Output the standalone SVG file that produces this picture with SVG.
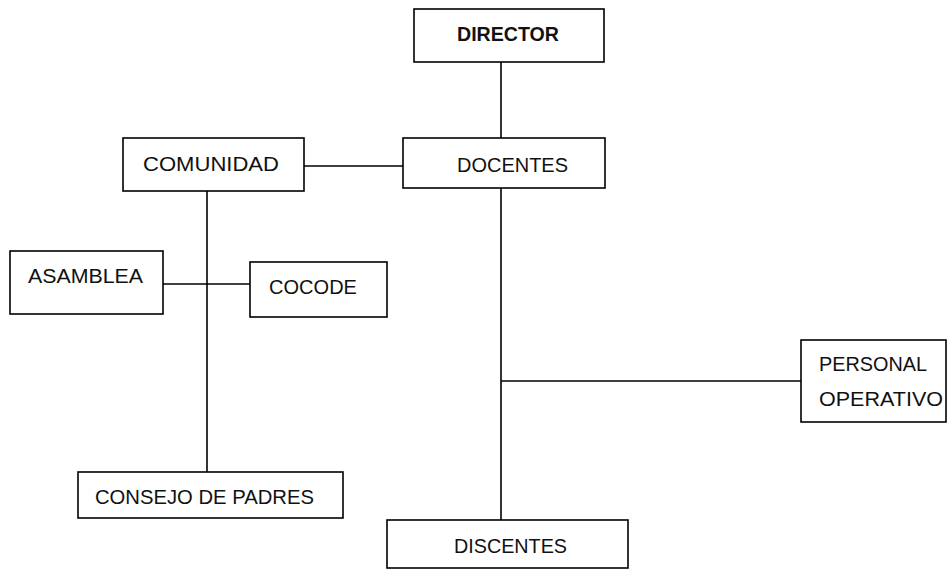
<svg xmlns="http://www.w3.org/2000/svg" width="948" height="569" viewBox="0 0 948 569">
<style>
.box{fill:#fff;stroke:#000;stroke-width:1.6}
.lbl{font-family:"Liberation Sans",Arial,sans-serif;font-size:21px;fill:#111}
.bold{font-weight:bold;font-size:20px}
.conn line{stroke:#000;stroke-width:1.6}
</style>
<rect width="948" height="569" fill="#fff"/>
<g class="conn">
<line x1="501" y1="62" x2="501" y2="138"/>
<line x1="304" y1="166" x2="403" y2="166"/>
<line x1="207" y1="191" x2="207" y2="472"/>
<line x1="163" y1="284" x2="250" y2="284"/>
<line x1="501" y1="188" x2="501" y2="520"/>
<line x1="501" y1="381" x2="801" y2="381"/>
</g>
<g id="director"><rect class="box" x="414" y="9" width="190" height="53"/><text class="lbl bold" x="457" y="41" textLength="102" lengthAdjust="spacingAndGlyphs">DIRECTOR</text></g>
<g id="docentes"><rect class="box" x="403" y="138" width="202" height="50"/><text class="lbl" x="457" y="172" textLength="111" lengthAdjust="spacingAndGlyphs">DOCENTES</text></g>
<g id="comunidad"><rect class="box" x="123" y="138" width="181" height="53"/><text class="lbl" x="143" y="171" textLength="136" lengthAdjust="spacingAndGlyphs">COMUNIDAD</text></g>
<g id="asamblea"><rect class="box" x="10" y="251" width="153" height="63"/><text class="lbl" x="28" y="283" textLength="115" lengthAdjust="spacingAndGlyphs">ASAMBLEA</text></g>
<g id="cocode"><rect class="box" x="250" y="262" width="137" height="55"/><text class="lbl" x="269" y="294" textLength="88" lengthAdjust="spacingAndGlyphs">COCODE</text></g>
<g id="consejo"><rect class="box" x="78" y="472" width="265" height="46"/><text class="lbl" x="95" y="504" textLength="219" lengthAdjust="spacingAndGlyphs">CONSEJO DE PADRES</text></g>
<g id="personal"><rect class="box" x="801" y="340" width="145" height="82"/><text class="lbl" x="819" y="371" textLength="108" lengthAdjust="spacingAndGlyphs">PERSONAL</text><text class="lbl" x="819" y="406" textLength="124" lengthAdjust="spacingAndGlyphs">OPERATIVO</text></g>
<g id="discentes"><rect class="box" x="387" y="520" width="241" height="48"/><text class="lbl" x="454" y="553" textLength="113" lengthAdjust="spacingAndGlyphs">DISCENTES</text></g>
</svg>
